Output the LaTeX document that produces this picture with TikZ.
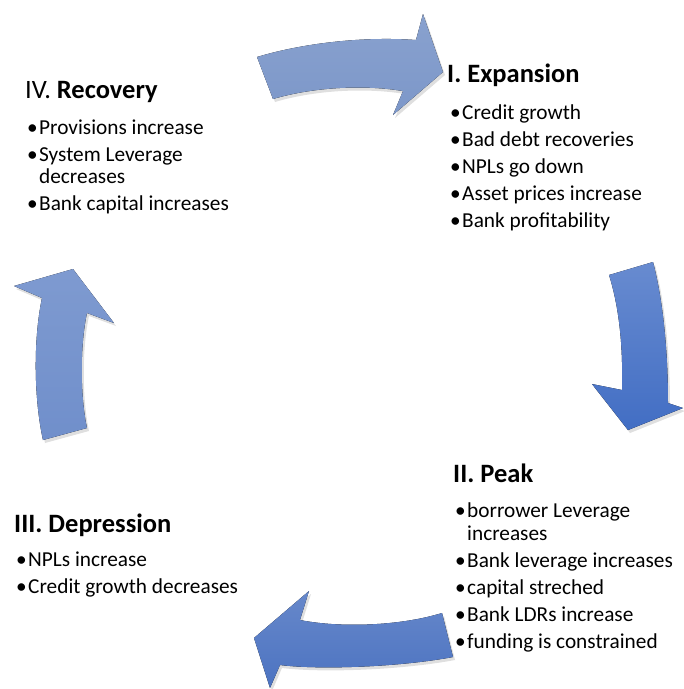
\documentclass[tikz,border=0pt]{standalone}
\usepackage{fontspec}
\setmainfont{Carlito}
\usetikzlibrary{shadows}

\definecolor{topblue}{RGB}{124,151,201}
\definecolor{rightblue}{RGB}{66,110,196}
\definecolor{bottomblue}{RGB}{76,115,193}
\definecolor{leftblue}{RGB}{112,143,203}

\newcommand{\bul}{\makebox[12pt][l]{\textbullet}}

\tikzset{
    phasetitle/.style={anchor=base west, inner sep=0pt, font=\fontsize{26.5}{31}\selectfont},
    phaselist/.style={anchor=base west, inner sep=0pt, font=\fontsize{21.3}{27}\selectfont},
    cyclearrow/.style={draw=none, drop shadow={opacity=0.25, shadow xshift=2pt, shadow yshift=-3pt}}
}

\begin{document}
\begin{tikzpicture}[x=1pt, y=-1pt]
    \useasboundingbox (0, 0) rectangle (684, 689);

    % the four curved arrows
    \fill[cyclearrow, top color=topblue!90!white, bottom color=topblue]
        (257, 57) .. controls (300, 44) and (360, 36) .. (416, 40) -- (423, 14) -- (443, 72)
        -- (393, 115) -- (403, 91) .. controls (360, 84) and (310, 88) .. (273, 99) -- cycle;
    \fill[cyclearrow, top color=rightblue!80!white, bottom color=rightblue]
        (609, 275) .. controls (620, 310) and (623, 350) .. (622, 390) -- (592, 384) -- (628, 430)
        -- (683, 408) -- (668, 403) .. controls (668, 350) and (663, 300) .. (653, 262) -- cycle;
    \fill[cyclearrow, top color=bottomblue!85!white, bottom color=bottomblue]
        (442, 613) .. controls (400, 626) and (340, 628) .. (300, 620) -- (309, 591) -- (254, 638)
        -- (270, 688) -- (280, 665) .. controls (320, 670) and (400, 667) .. (453, 657) -- cycle;
    \fill[cyclearrow, top color=leftblue!90!white, bottom color=leftblue]
        (43, 440) .. controls (34, 400) and (33, 340) .. (42, 298) -- (14, 286) -- (73, 269)
        -- (114, 323) -- (87, 313) .. controls (80, 345) and (80, 395) .. (87, 428) -- cycle;

    % I. Expansion
    \node[phasetitle] (expansion) at (447, 82) {\textbf{I. Expansion}};
    \node[phaselist] (expansionlist) at (450, 119) {\begin{tabular}[t]{@{}l@{}l@{}}
        \bul & Credit growth\\
        \bul & Bad debt recoveries\\
        \bul & NPLs go down\\
        \bul & Asset prices increase\\
        \bul & Bank profitability
    \end{tabular}};

    % II. Peak
    \node[phasetitle] (peak) at (453, 482) {\textbf{II. Peak}};
    \node[phaselist] (peaklist) at (455, 517) {\begin{tabular}[t]{@{}l@{}l@{}}
        \bul & borrower Leverage\\[-4pt]
             & increases\\
        \bul & Bank leverage increases\\
        \bul & capital streched\\
        \bul & Bank LDRs increase\\
        \bul & funding is constrained
    \end{tabular}};

    % III. Depression
    \node[phasetitle] (depression) at (14, 532) {\textbf{III. Depression}};
    \node[phaselist] (depressionlist) at (16, 566) {\begin{tabular}[t]{@{}l@{}l@{}}
        \bul & NPLs increase\\
        \bul & Credit growth decreases
    \end{tabular}};

    % IV. Recovery
    \node[phasetitle] (recovery) at (25, 98) {IV. \textbf{Recovery}};
    \node[phaselist] (recoverylist) at (27, 134) {\begin{tabular}[t]{@{}l@{}l@{}}
        \bul & Provisions increase\\
        \bul & System Leverage\\[-5pt]
             & decreases\\
        \bul & Bank capital increases
    \end{tabular}};
\end{tikzpicture}
\end{document}
